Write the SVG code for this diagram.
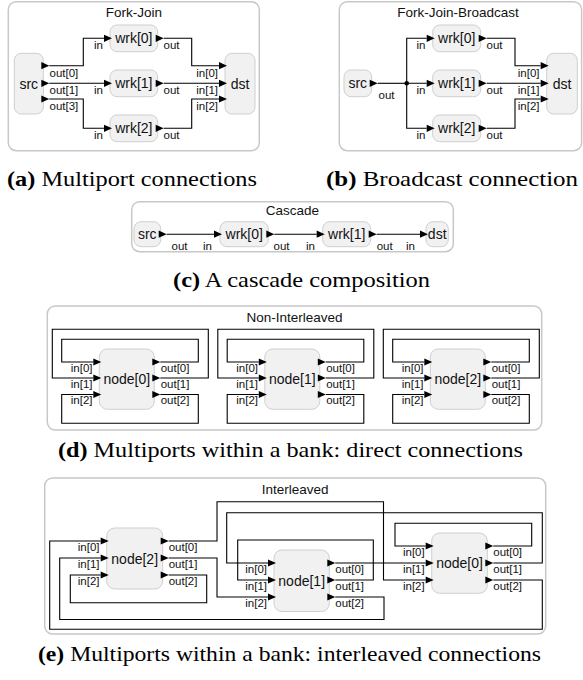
<svg xmlns="http://www.w3.org/2000/svg" width="583" height="680" viewBox="0 0 583 680">
<defs>
<path id="pt" d="M0,-3.6 L8,0 L0,3.6 Z"/>
</defs>
<style>
.panel{fill:#fff;stroke:#c8c8c8;stroke-width:1.5}
.node{fill:#f1f1f1;stroke:#cfcfcf;stroke-width:1}
.w{fill:none;stroke:#000;stroke-width:1.1}
use{fill:#000}
text{font-family:"Liberation Sans",Arial,sans-serif;fill:#111}
.ttl{font-size:13.5px;text-anchor:middle}
.nl{font-size:14px;text-anchor:middle}
.pl{font-size:11.5px}
.pr{font-size:11.5px;text-anchor:end}
.cap{font-family:"Liberation Serif","Times New Roman",serif;font-size:21px;fill:#000}
.b{font-weight:bold}
</style>
<rect width="583" height="680" fill="#fff"/>

<!-- Panel (a) -->
<g id="panel-a">
<rect class="panel" x="8.3" y="1.7" width="251" height="149" rx="8"/>
<text class="ttl" x="133.8" y="16.5">Fork-Join</text>
</g>
<g id="a-src">
<rect class="node" x="14.3" y="53.3" width="29" height="60.7" rx="7"/>
<text class="nl" x="28.8" y="89">src</text>
<use href="#pt" x="41.3" y="65.7"/><use href="#pt" x="41.3" y="83.3"/><use href="#pt" x="41.3" y="99"/>
<text class="pl" x="49.5" y="76.5">out[0]</text><text class="pl" x="49.5" y="93.5">out[1]</text><text class="pl" x="49.5" y="110">out[3]</text>
</g>
<g id="a-wrk0">
<rect class="node" x="110" y="25" width="47.7" height="26.7" rx="7"/>
<text class="nl" x="133.8" y="43.3">wrk[0]</text>
<use href="#pt" x="104" y="38.3"/><use href="#pt" x="155.7" y="38.3"/>
<text class="pr" x="103" y="48.5">in</text><text class="pl" x="163.5" y="48.5">out</text>
</g>
<g id="a-wrk1">
<rect class="node" x="110" y="70" width="47.7" height="26.7" rx="7"/>
<text class="nl" x="133.8" y="88.3">wrk[1]</text>
<use href="#pt" x="104" y="83.3"/><use href="#pt" x="155.7" y="83.3"/>
<text class="pr" x="103" y="93.5">in</text><text class="pl" x="163.5" y="93.5">out</text>
</g>
<g id="a-wrk2">
<rect class="node" x="110" y="115" width="47.7" height="26.7" rx="7"/>
<text class="nl" x="133.8" y="133.3">wrk[2]</text>
<use href="#pt" x="104" y="128.3"/><use href="#pt" x="155.7" y="128.3"/>
<text class="pr" x="103" y="138.5">in</text><text class="pl" x="163.5" y="138.5">out</text>
</g>
<g id="a-dst">
<rect class="node" x="225" y="53.3" width="30" height="60.7" rx="7"/>
<text class="nl" x="240" y="89">dst</text>
<use href="#pt" x="219" y="65.7"/><use href="#pt" x="219" y="83.3"/><use href="#pt" x="219" y="99"/>
<text class="pr" x="218" y="76.5">in[0]</text><text class="pr" x="218" y="93.5">in[1]</text><text class="pr" x="218" y="110">in[2]</text>
</g>

<!-- Panel (b) -->
<g id="panel-b">
<rect class="panel" x="339.3" y="1.7" width="242.3" height="149" rx="8"/>
<text class="ttl" x="458" y="16.5">Fork-Join-Broadcast</text>
</g>
<g id="b-src">
<rect class="node" x="344" y="70" width="27.7" height="26.7" rx="7"/>
<text class="nl" x="357.8" y="88.3">src</text>
<use href="#pt" x="369.7" y="83.3"/>
<text class="pl" x="378.5" y="98.5">out</text>
</g>
<g id="b-wrk0">
<rect class="node" x="432.7" y="25" width="48" height="26.7" rx="7"/>
<text class="nl" x="456.7" y="43.3">wrk[0]</text>
<use href="#pt" x="426.7" y="38.3"/><use href="#pt" x="478.7" y="38.3"/>
<text class="pr" x="425.5" y="48.5">in</text><text class="pl" x="486.5" y="48.5">out</text>
</g>
<g id="b-wrk1">
<rect class="node" x="432.7" y="70" width="48" height="26.7" rx="7"/>
<text class="nl" x="456.7" y="88.3">wrk[1]</text>
<use href="#pt" x="426.7" y="83.3"/><use href="#pt" x="478.7" y="83.3"/>
<text class="pr" x="425.5" y="93.5">in</text><text class="pl" x="486.5" y="93.5">out</text>
</g>
<g id="b-wrk2">
<rect class="node" x="432.7" y="115" width="48" height="26.7" rx="7"/>
<text class="nl" x="456.7" y="133.3">wrk[2]</text>
<use href="#pt" x="426.7" y="128.3"/><use href="#pt" x="478.7" y="128.3"/>
<text class="pr" x="425.5" y="138.5">in</text><text class="pl" x="486.5" y="138.5">out</text>
</g>
<g id="b-dst">
<rect class="node" x="546.7" y="53.3" width="30.6" height="60.7" rx="7"/>
<text class="nl" x="562" y="89">dst</text>
<use href="#pt" x="540.7" y="65.7"/><use href="#pt" x="540.7" y="83.3"/><use href="#pt" x="540.7" y="99"/>
<text class="pr" x="539.5" y="76.5">in[0]</text><text class="pr" x="539.5" y="93.5">in[1]</text><text class="pr" x="539.5" y="110">in[2]</text>
</g>

<!-- Panel (c) -->
<g id="panel-c">
<rect class="panel" x="131.7" y="201.7" width="321.6" height="50" rx="8"/>
<text class="ttl" x="292.5" y="214.5">Cascade</text>
</g>
<g id="c-src">
<rect class="node" x="134" y="221.7" width="26.7" height="25" rx="7"/>
<text class="nl" x="147.3" y="239">src</text>
<use href="#pt" x="158.7" y="234.2"/>
<text class="pl" x="171.5" y="249.5">out</text>
</g>
<g id="c-wrk0">
<rect class="node" x="220" y="221.7" width="48.3" height="25" rx="7"/>
<text class="nl" x="244.2" y="239">wrk[0]</text>
<use href="#pt" x="214" y="234.2"/><use href="#pt" x="266.3" y="234.2"/>
<text class="pr" x="212" y="249.5">in</text><text class="pl" x="273.5" y="249.5">out</text>
</g>
<g id="c-wrk1">
<rect class="node" x="322.7" y="221.7" width="48" height="25" rx="7"/>
<text class="nl" x="346.7" y="239">wrk[1]</text>
<use href="#pt" x="316.7" y="234.2"/><use href="#pt" x="368.7" y="234.2"/>
<text class="pr" x="315" y="249.5">in</text><text class="pl" x="376.7" y="249.5">out</text>
</g>
<g id="c-dst">
<rect class="node" x="426" y="221.7" width="22.3" height="25" rx="7"/>
<text class="nl" x="437.2" y="239">dst</text>
<use href="#pt" x="420" y="234.2"/>
<text class="pr" x="415" y="249.5">in</text>
</g>

<!-- Panel (d) -->
<g id="panel-d">
<rect class="panel" x="47.3" y="306" width="494.4" height="124" rx="8"/>
<text class="ttl" x="294.5" y="321.5">Non-Interleaved</text>
</g>
<g id="d-node0">
<rect class="node" x="99.3" y="349" width="55" height="60.3" rx="8"/>
<text class="nl" x="126.8" y="384">node[0]</text>
<use href="#pt" x="93.3" y="362"/><use href="#pt" x="93.3" y="378"/><use href="#pt" x="93.3" y="394.5"/>
<use href="#pt" x="152.3" y="362"/><use href="#pt" x="152.3" y="378"/><use href="#pt" x="152.3" y="394.5"/>
<text class="pr" x="92.5" y="371.5">in[0]</text><text class="pr" x="92.5" y="387.5">in[1]</text><text class="pr" x="92.5" y="404">in[2]</text>
<text class="pl" x="160.7" y="371.5">out[0]</text><text class="pl" x="160.7" y="387.5">out[1]</text><text class="pl" x="160.7" y="404">out[2]</text>
</g>
<g id="d-node1">
<rect class="node" x="264.8" y="349" width="55" height="60.3" rx="8"/>
<text class="nl" x="292.3" y="384">node[1]</text>
<use href="#pt" x="258.8" y="362"/><use href="#pt" x="258.8" y="378"/><use href="#pt" x="258.8" y="394.5"/>
<use href="#pt" x="317.8" y="362"/><use href="#pt" x="317.8" y="378"/><use href="#pt" x="317.8" y="394.5"/>
<text class="pr" x="258" y="371.5">in[0]</text><text class="pr" x="258" y="387.5">in[1]</text><text class="pr" x="258" y="404">in[2]</text>
<text class="pl" x="326.2" y="371.5">out[0]</text><text class="pl" x="326.2" y="387.5">out[1]</text><text class="pl" x="326.2" y="404">out[2]</text>
</g>
<g id="d-node2">
<rect class="node" x="430.3" y="349" width="55" height="60.3" rx="8"/>
<text class="nl" x="457.8" y="384">node[2]</text>
<use href="#pt" x="424.3" y="362"/><use href="#pt" x="424.3" y="378"/><use href="#pt" x="424.3" y="394.5"/>
<use href="#pt" x="483.3" y="362"/><use href="#pt" x="483.3" y="378"/><use href="#pt" x="483.3" y="394.5"/>
<text class="pr" x="423.5" y="371.5">in[0]</text><text class="pr" x="423.5" y="387.5">in[1]</text><text class="pr" x="423.5" y="404">in[2]</text>
<text class="pl" x="491.7" y="371.5">out[0]</text><text class="pl" x="491.7" y="387.5">out[1]</text><text class="pl" x="491.7" y="404">out[2]</text>
</g>

<!-- Panel (e) -->
<g id="panel-e">
<rect class="panel" x="44.7" y="478" width="501" height="156" rx="8"/>
<text class="ttl" x="295.2" y="494">Interleaved</text>
</g>
<g id="e-node2">
<rect class="node" x="106.7" y="528" width="56" height="61" rx="8"/>
<text class="nl" x="134.7" y="563.5">node[2]</text>
<use href="#pt" x="100.7" y="541"/><use href="#pt" x="100.7" y="558"/><use href="#pt" x="100.7" y="575"/>
<use href="#pt" x="160.7" y="541"/><use href="#pt" x="160.7" y="558"/><use href="#pt" x="160.7" y="575"/>
<text class="pr" x="99.5" y="551">in[0]</text><text class="pr" x="99.5" y="568">in[1]</text><text class="pr" x="99.5" y="585">in[2]</text>
<text class="pl" x="168.7" y="551">out[0]</text><text class="pl" x="168.7" y="568">out[1]</text><text class="pl" x="168.7" y="585">out[2]</text>
</g>
<g id="e-node1">
<rect class="node" x="274" y="550" width="55.3" height="61.5" rx="8"/>
<text class="nl" x="301.7" y="585.8">node[1]</text>
<use href="#pt" x="268" y="563"/><use href="#pt" x="268" y="580"/><use href="#pt" x="268" y="597"/>
<use href="#pt" x="327.3" y="563"/><use href="#pt" x="327.3" y="580"/><use href="#pt" x="327.3" y="597"/>
<text class="pr" x="267" y="573">in[0]</text><text class="pr" x="267" y="590">in[1]</text><text class="pr" x="267" y="607">in[2]</text>
<text class="pl" x="335.3" y="573">out[0]</text><text class="pl" x="335.3" y="590">out[1]</text><text class="pl" x="335.3" y="607">out[2]</text>
</g>
<g id="e-node0">
<rect class="node" x="431.7" y="533" width="55.6" height="60.3" rx="8"/>
<text class="nl" x="459.5" y="568">node[0]</text>
<use href="#pt" x="425.7" y="546"/><use href="#pt" x="425.7" y="563"/><use href="#pt" x="425.7" y="580"/>
<use href="#pt" x="485.3" y="546"/><use href="#pt" x="485.3" y="563"/><use href="#pt" x="485.3" y="580"/>
<text class="pr" x="424.7" y="556">in[0]</text><text class="pr" x="424.7" y="573">in[1]</text><text class="pr" x="424.7" y="590">in[2]</text>
<text class="pl" x="493.3" y="556">out[0]</text><text class="pl" x="493.3" y="573">out[1]</text><text class="pl" x="493.3" y="590">out[2]</text>
</g>

<!-- Connectors -->
<g id="connectors">
<path class="w" d="M49.3,65.7 H83.3 V38.3 H104 M49.3,83.3 H104 M49.3,99 H83.3 V128.3 H104"/>
<path class="w" d="M163.7,38.3 H191.7 V65.7 H219 M163.7,83.3 H219 M163.7,128.3 H191.7 V99 H219"/>
<path class="w" d="M377.7,83.3 H406.7" stroke-width="2"/>
<path class="w" d="M426.7,38.3 H406.7 V128.3 H426.7 M406.7,83.3 H426.7"/>
<circle cx="406.7" cy="83.3" r="2.3" fill="#000"/>
<path class="w" d="M486.7,38.3 H515 V65.7 H540.7 M486.7,83.3 H540.7 M486.7,128.3 H515 V99 H540.7"/>
<path class="w" d="M166.7,234.2 H214 M274.3,234.2 H316.7 M376.7,234.2 H420"/>
<path class="w" d="M160.3,362 H198.3 V339.3 H61.7 V362 H93.3 M160.3,378 H208.3 V329.3 H52.3 V378 H93.3 M160.3,394.5 H198.3 V423.3 H61.7 V394.5 H93.3"/>
<path class="w" d="M325.8,362 H363.8 V339.3 H227.2 V362 H258.8 M325.8,378 H373.8 V329.3 H217.8 V378 H258.8 M325.8,394.5 H363.8 V423.3 H227.2 V394.5 H258.8"/>
<path class="w" d="M491.3,362 H529.3 V339.3 H392.7 V362 H424.3 M491.3,378 H539.3 V329.3 H383.3 V378 H424.3 M491.3,394.5 H529.3 V423.3 H392.7 V394.5 H424.3"/>
<path class="w" d="M493.3,546 H531.7 V523.3 H395 V546 H425.7"/>
<path class="w" d="M493.3,563 H542.3 V512.7 H226.7 V563 H268"/>
<path class="w" d="M493.3,580 H542.3 V629.3 H49.7 V541 H100.7"/>
<path class="w" d="M335.3,563 H425.7"/>
<path class="w" d="M335.3,580 H373.3 V540 H237.7 V580 H268"/>
<path class="w" d="M335.3,597 H384 V619.5 H59.7 V558 H100.7"/>
<path class="w" d="M168.7,541 H217 V501.7 H383.5 V580 H425.7"/>
<path class="w" d="M168.7,558 H217 V597 H268"/>
<path class="w" d="M168.7,575 H206.7 V602.7 H70.3 V575 H100.7"/>
</g>

<!-- Captions -->
<text class="cap" x="7" y="186" textLength="250" lengthAdjust="spacingAndGlyphs"><tspan class="b">(a)</tspan> Multiport connections</text>
<text class="cap" x="326" y="186" textLength="252" lengthAdjust="spacingAndGlyphs"><tspan class="b">(b)</tspan> Broadcast connection</text>
<text class="cap" x="173" y="287" textLength="257" lengthAdjust="spacingAndGlyphs"><tspan class="b">(c)</tspan> A cascade composition</text>
<text class="cap" x="58" y="457" textLength="465" lengthAdjust="spacingAndGlyphs"><tspan class="b">(d)</tspan> Multiports within a bank: direct connections</text>
<text class="cap" x="38" y="661" textLength="503" lengthAdjust="spacingAndGlyphs"><tspan class="b">(e)</tspan> Multiports within a bank: interleaved connections</text>
</svg>
